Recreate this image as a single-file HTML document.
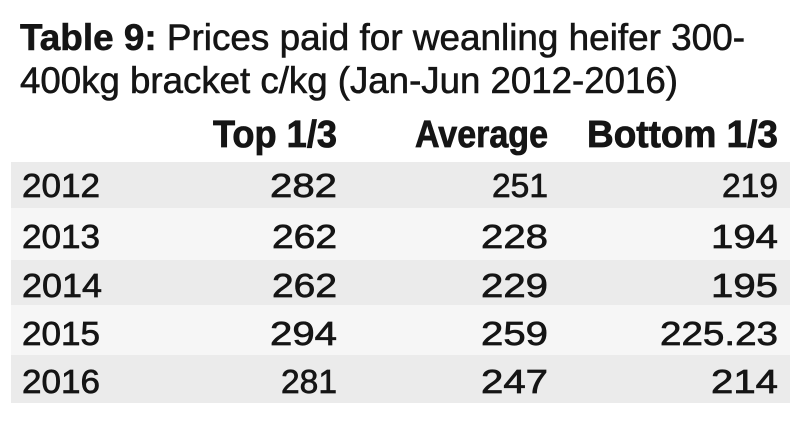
<!DOCTYPE html>
<html><head><meta charset="utf-8"><style>
html,body{margin:0;padding:0;background:#fff;width:790px;height:430px;overflow:hidden}
svg text{font-family:"Liberation Sans",sans-serif;fill:#151515}
</style></head><body>
<svg width="790" height="430" xmlns="http://www.w3.org/2000/svg">
<rect x="11" y="162" width="779" height="46" fill="#ebebeb"/>
<rect x="11" y="208" width="779" height="52" fill="#f6f6f6"/>
<rect x="11" y="260" width="779" height="45" fill="#ebebeb"/>
<rect x="11" y="305" width="779" height="50" fill="#f6f6f6"/>
<rect x="11" y="355" width="779" height="48" fill="#ebebeb"/>
<g stroke="#151515" stroke-width="0.6">
<text x="20" y="50" font-size="37" textLength="725" lengthAdjust="spacingAndGlyphs"><tspan font-weight="bold">Table 9:</tspan> Prices paid for weanling heifer 300-</text>
<text x="20" y="93" font-size="37" textLength="658" lengthAdjust="spacingAndGlyphs">400kg bracket c/kg (Jan-Jun 2012-2016)</text>
</g>
<g font-weight="bold" font-size="38" stroke="#151515" stroke-width="0.8">
<text x="213" y="147" textLength="124" lengthAdjust="spacingAndGlyphs">Top 1/3</text>
<text x="415" y="147" textLength="133" lengthAdjust="spacingAndGlyphs">Average</text>
<text x="587" y="147" textLength="191" lengthAdjust="spacingAndGlyphs">Bottom 1/3</text>
</g>
<g font-size="33" stroke="#151515" stroke-width="0.7">
<text x="22" y="197" textLength="78" lengthAdjust="spacingAndGlyphs">2012</text>
<text x="22" y="248" textLength="78" lengthAdjust="spacingAndGlyphs">2013</text>
<text x="22" y="297" textLength="80" lengthAdjust="spacingAndGlyphs">2014</text>
<text x="22" y="345" textLength="78" lengthAdjust="spacingAndGlyphs">2015</text>
<text x="22" y="393" textLength="78" lengthAdjust="spacingAndGlyphs">2016</text>

<text x="270" y="197" textLength="67" lengthAdjust="spacingAndGlyphs">282</text>
<text x="272" y="248" textLength="65" lengthAdjust="spacingAndGlyphs">262</text>
<text x="272" y="297" textLength="65" lengthAdjust="spacingAndGlyphs">262</text>
<text x="270" y="345" textLength="67" lengthAdjust="spacingAndGlyphs">294</text>
<text x="281" y="393" textLength="56" lengthAdjust="spacingAndGlyphs">281</text>

<text x="492" y="197" textLength="56" lengthAdjust="spacingAndGlyphs">251</text>
<text x="481" y="248" textLength="67" lengthAdjust="spacingAndGlyphs">228</text>
<text x="481" y="297" textLength="67" lengthAdjust="spacingAndGlyphs">229</text>
<text x="481" y="345" textLength="67" lengthAdjust="spacingAndGlyphs">259</text>
<text x="481" y="393" textLength="67" lengthAdjust="spacingAndGlyphs">247</text>

<text x="722" y="197" textLength="56" lengthAdjust="spacingAndGlyphs">219</text>
<text x="711" y="248" textLength="67" lengthAdjust="spacingAndGlyphs">194</text>
<text x="711" y="297" textLength="67" lengthAdjust="spacingAndGlyphs">195</text>
<text x="660" y="345" textLength="118" lengthAdjust="spacingAndGlyphs">225.23</text>
<text x="711" y="393" textLength="67" lengthAdjust="spacingAndGlyphs">214</text>
</g>
</svg>
</body></html>
